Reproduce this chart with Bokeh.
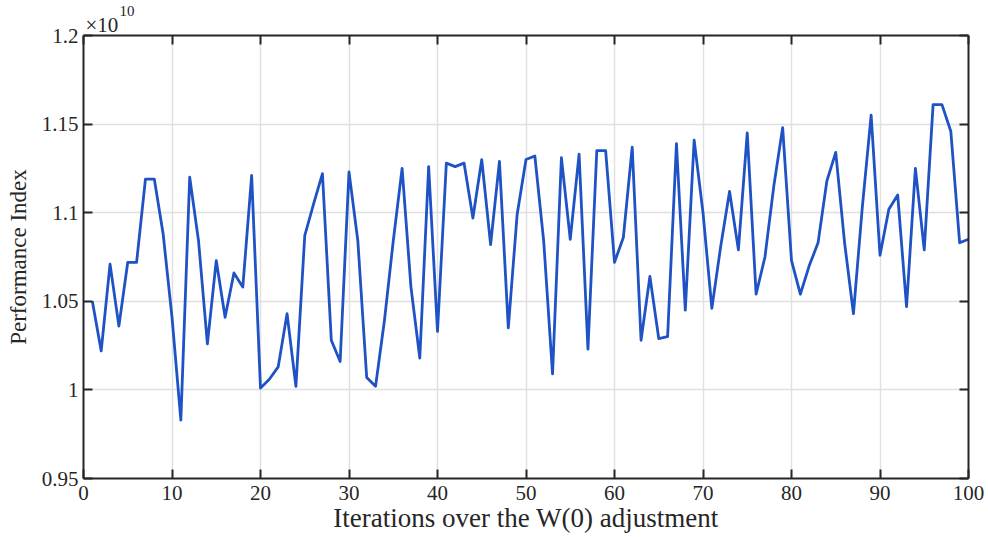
from bokeh.plotting import figure
from bokeh.models import Range1d, FixedTicker, LinearAxis, CustomJSTickFormatter, Title
from bokeh.embed import file_html
from bokeh.resources import INLINE

# ---- data (performance index in units of 1e10) ----
iterations = list(range(1, 101))
performance_index_e10 = [
    1.050, 1.022, 1.071, 1.036, 1.072, 1.072, 1.119, 1.119, 1.088, 1.041,
    0.983, 1.120, 1.084, 1.026, 1.073, 1.041, 1.066, 1.058, 1.121, 1.001,
    1.006, 1.013, 1.043, 1.002, 1.087, 1.105, 1.122, 1.028, 1.016, 1.123,
    1.084, 1.007, 1.002, 1.039, 1.084, 1.125, 1.058, 1.018, 1.126, 1.033,
    1.128, 1.126, 1.128, 1.097, 1.130, 1.082, 1.129, 1.035, 1.099, 1.130,
    1.132, 1.084, 1.009, 1.131, 1.085, 1.133, 1.023, 1.135, 1.135, 1.072,
    1.086, 1.137, 1.028, 1.064, 1.029, 1.030, 1.139, 1.045, 1.141, 1.100,
    1.046, 1.081, 1.112, 1.079, 1.145, 1.054, 1.075, 1.115, 1.148, 1.073,
    1.054, 1.070, 1.083, 1.118, 1.134, 1.083, 1.043, 1.103, 1.155, 1.076,
    1.102, 1.110, 1.047, 1.125, 1.079, 1.161, 1.161, 1.146, 1.083, 1.085,
]
x_ticks = [0, 10, 20, 30, 40, 50, 60, 70, 80, 90, 100]
y_ticks = [0.95, 1.0, 1.05, 1.1, 1.15, 1.2]
x_title = "Iterations over the W(0) adjustment"
y_title = "Performance Index"
multiplier_base = "\u00d710"
multiplier_exp = "10"

FONT = "Liberation Serif"
AXIS_COLOR = "#262626"
TEXT_COLOR = "#262626"

p = figure(width=988, height=537, output_backend="svg", toolbar_location=None,
           x_range=Range1d(0, 100), y_range=Range1d(0.95, 1.2),
           min_border_left=83, min_border_right=20, min_border_top=35,
           min_border_bottom=59, background_fill_color="white",
           border_fill_color="white")
p.outline_line_color = None

p.line(iterations, performance_index_e10, line_color="#1f52c4", line_width=2.8,
       line_join="round")

num_fmt = CustomJSTickFormatter(code="return String(Number(tick.toFixed(2)));")
blank_fmt = CustomJSTickFormatter(code="return '';")

def style_axis(ax, ticks, fmt, label_size):
    ax.ticker = FixedTicker(ticks=ticks)
    ax.formatter = fmt
    ax.axis_line_color = AXIS_COLOR
    ax.axis_line_width = 2
    ax.major_tick_line_color = AXIS_COLOR
    ax.major_tick_line_width = 2
    ax.major_tick_in = 9
    ax.major_tick_out = 0
    ax.minor_tick_in = 0
    ax.minor_tick_out = 0
    ax.major_label_text_font = FONT
    ax.major_label_text_font_size = label_size
    ax.major_label_text_color = TEXT_COLOR

style_axis(p.xaxis[0], x_ticks, num_fmt, "21px")
style_axis(p.yaxis[0], y_ticks, num_fmt, "21px")
p.xaxis[0].major_label_standoff = 7
p.yaxis[0].major_label_standoff = 5

p.xaxis[0].axis_label = x_title
p.xaxis[0].axis_label_text_font = FONT
p.xaxis[0].axis_label_text_font_size = "27px"
p.xaxis[0].axis_label_text_font_style = "normal"
p.xaxis[0].axis_label_text_color = TEXT_COLOR
p.xaxis[0].axis_label_standoff = 0

p.yaxis[0].axis_label = y_title
p.yaxis[0].axis_label_text_font = FONT
p.yaxis[0].axis_label_text_font_size = "23px"
p.yaxis[0].axis_label_text_font_style = "normal"
p.yaxis[0].axis_label_text_color = TEXT_COLOR
p.yaxis[0].axis_label_standoff = 8

top_ax = LinearAxis()
style_axis(top_ax, x_ticks, blank_fmt, "1px")
top_ax.major_label_standoff = 0
p.add_layout(top_ax, "above")
right_ax = LinearAxis()
style_axis(right_ax, y_ticks, blank_fmt, "1px")
right_ax.major_label_standoff = 0
p.add_layout(right_ax, "right")

p.xgrid.ticker = FixedTicker(ticks=x_ticks)
p.ygrid.ticker = FixedTicker(ticks=y_ticks)
for g in (p.xgrid[0], p.ygrid[0]):
    g.grid_line_color = "#e0e0e0"
    g.grid_line_width = 1.5

# base "×10" sits next to the frame, exponent "10" is the outermost title
base = Title(text=multiplier_base, text_font=FONT, text_font_size="21px",
             text_font_style="normal", text_color=TEXT_COLOR, align="left",
             offset=2, standoff=-2)
p.add_layout(base, "above")

p.title.text = multiplier_exp
p.title.text_font = FONT
p.title.text_font_size = "15px"
p.title.text_font_style = "normal"
p.title.text_color = TEXT_COLOR
p.title.align = "left"
p.title.offset = 36
p.title.standoff = -9

open("out.html", "w").write(file_html(p, INLINE))
